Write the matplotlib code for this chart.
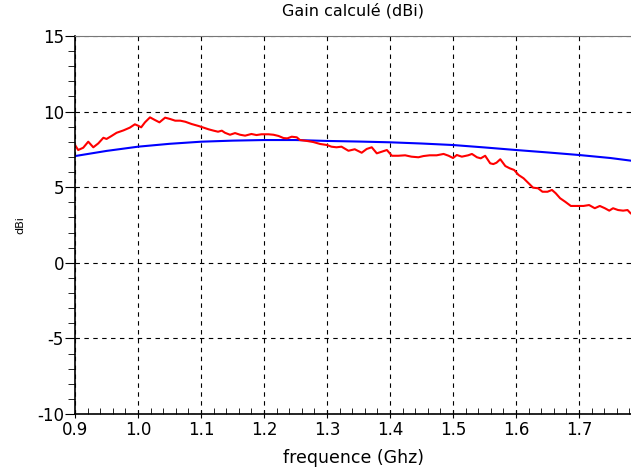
import matplotlib
matplotlib.use('Agg')
import matplotlib.pyplot as plt
from matplotlib.ticker import MultipleLocator

# Calculated gain (red)
freq_meas = [0.900, 0.905, 0.913, 0.921, 0.929, 0.937, 0.945, 0.950, 0.958, 0.966,
             0.977, 0.987, 0.995, 1.000, 1.005, 1.011, 1.019, 1.027, 1.034, 1.043,
             1.051, 1.059, 1.067, 1.075, 1.085, 1.096, 1.104, 1.112, 1.120, 1.127,
             1.133, 1.138, 1.146, 1.154, 1.162, 1.170, 1.180, 1.188, 1.196, 1.207,
             1.215, 1.223, 1.231, 1.237, 1.244, 1.252, 1.257, 1.268, 1.278, 1.289,
             1.300, 1.307, 1.315, 1.323, 1.334, 1.344, 1.355, 1.363, 1.371, 1.379,
             1.387, 1.395, 1.403, 1.413, 1.424, 1.434, 1.445, 1.453, 1.463, 1.474,
             1.485, 1.493, 1.500, 1.506, 1.514, 1.524, 1.530, 1.538, 1.544, 1.551,
             1.559, 1.564, 1.569, 1.575, 1.583, 1.590, 1.597, 1.604, 1.612, 1.620,
             1.627, 1.635, 1.642, 1.650, 1.657, 1.663, 1.670, 1.678, 1.687, 1.696,
             1.707, 1.716, 1.725, 1.733, 1.741, 1.748, 1.754, 1.762, 1.770, 1.777,
             1.782, 1.790]
gain_meas = [7.79, 7.46, 7.61, 8.01, 7.64, 7.90, 8.27, 8.19, 8.39, 8.60,
             8.76, 8.94, 9.16, 9.07, 8.96, 9.29, 9.62, 9.44, 9.29, 9.60,
             9.51, 9.40, 9.40, 9.33, 9.18, 9.05, 8.94, 8.83, 8.74, 8.67,
             8.74, 8.60, 8.47, 8.58, 8.47, 8.41, 8.52, 8.45, 8.50, 8.50,
             8.47, 8.39, 8.25, 8.23, 8.34, 8.30, 8.12, 8.06, 7.99, 7.86,
             7.79, 7.68, 7.64, 7.68, 7.41, 7.51, 7.28, 7.53, 7.64, 7.24,
             7.35, 7.46, 7.08, 7.08, 7.11, 7.02, 6.98, 7.06, 7.11, 7.11,
             7.20, 7.08, 6.93, 7.13, 7.02, 7.11, 7.20, 6.98, 6.91, 7.08,
             6.58, 6.53, 6.62, 6.85, 6.40, 6.25, 6.14, 5.81, 5.59, 5.26,
             4.97, 4.93, 4.70, 4.70, 4.82, 4.60, 4.27, 4.04, 3.76, 3.76,
             3.76, 3.82, 3.61, 3.76, 3.61, 3.45, 3.61, 3.49, 3.45, 3.49,
             3.27, 3.10]

# Smooth theoretical gain (blue)
freq_theo = [0.90, 0.95, 1.00, 1.05, 1.10, 1.15, 1.20, 1.25, 1.30, 1.35,
             1.40, 1.45, 1.50, 1.55, 1.60, 1.65, 1.70, 1.75, 1.80]
gain_theo = [7.06, 7.40, 7.68, 7.87, 8.01, 8.08, 8.12, 8.12, 8.06, 8.02,
             7.97, 7.89, 7.79, 7.63, 7.46, 7.30, 7.13, 6.93, 6.66]

fig = plt.figure(figsize=(6.31, 4.70), dpi=100)
ax = fig.add_axes([0.1189, 0.1191, 0.8811, 0.8043])

ax.plot(freq_theo, gain_theo, color='blue', linewidth=1.5)
ax.plot(freq_meas, gain_meas, color='red', linewidth=1.5)

ax.set_xlim(0.9, 1.7825)
ax.set_ylim(-10, 15)
ax.xaxis.set_minor_locator(MultipleLocator(0.02))
ax.yaxis.set_minor_locator(MultipleLocator(1))
ax.set_xticks([0.9, 1.0, 1.1, 1.2, 1.3, 1.4, 1.5, 1.6, 1.7])
ax.set_xticklabels(['0.9', '1.0', '1.1', '1.2', '1.3', '1.4', '1.5', '1.6', '1.7'])
ax.set_yticks([-10, -5, 0, 5, 10, 15])
ax.set_yticklabels(['-10', '-5', '0', '5', '10', '15'])

ax.tick_params(axis='x', which='major', direction='inout', length=6, labelsize=12, pad=2)
ax.tick_params(axis='x', which='minor', direction='in', length=4)
ax.tick_params(axis='y', which='major', direction='out', length=7, labelsize=12, pad=1)
ax.tick_params(axis='y', which='minor', direction='out', length=5)

ax.grid(True, which='major', color='black', linestyle=(0, (4, 4)), linewidth=0.8)

# faint top frame under the dashed grid line at 15
ax.spines['right'].set_visible(False)
ax.spines['top'].set_color('#777777')
ax.spines['top'].set_linewidth(0.8)
ax.spines['left'].set_linewidth(1.2)
ax.spines['bottom'].set_linewidth(1.2)

ax.set_title('Gain calculé (dBi)', fontsize=11.5, pad=15)
ax.set_xlabel('frequence (Ghz)', fontsize=12.5, labelpad=7)
fig.text(20 / 631, 1 - 225 / 470, 'dBi', fontsize=8, rotation=90,
         ha='center', va='center')

fig.savefig('out.png', dpi=100)
